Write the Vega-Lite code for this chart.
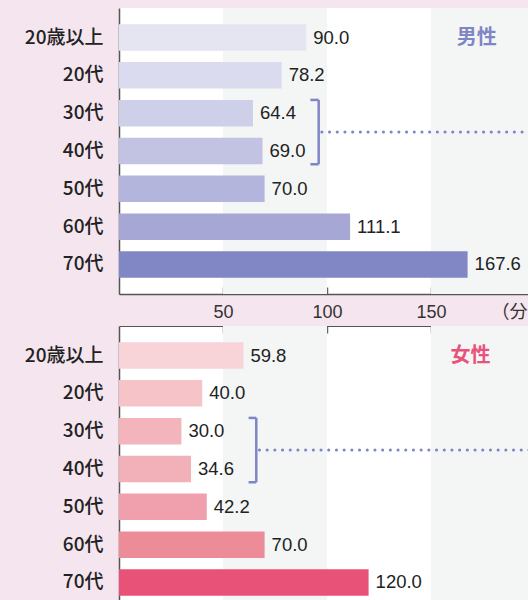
{
  "$schema": "https://vega.github.io/schema/vega-lite/v6.json",
  "background": "#f4e5ee",
  "padding": {"left": 24, "top": 8, "right": 0, "bottom": 0},
  "config": {
    "font": "Liberation Sans, Noto Sans CJK JP, sans-serif",
    "view": {"stroke": null, "fill": "white"},
    "axis": {"grid": false, "title": null}
  },
  "datasets": {
    "main": [
      {"sex": "男性", "age": "20歳以上", "value": 90.0},
      {"sex": "男性", "age": "20代", "value": 78.2},
      {"sex": "男性", "age": "30代", "value": 64.4},
      {"sex": "男性", "age": "40代", "value": 69.0},
      {"sex": "男性", "age": "50代", "value": 70.0},
      {"sex": "男性", "age": "60代", "value": 111.1},
      {"sex": "男性", "age": "70代", "value": 167.6},
      {"sex": "女性", "age": "20歳以上", "value": 59.8},
      {"sex": "女性", "age": "20代", "value": 40.0},
      {"sex": "女性", "age": "30代", "value": 30.0},
      {"sex": "女性", "age": "40代", "value": 34.6},
      {"sex": "女性", "age": "50代", "value": 42.2},
      {"sex": "女性", "age": "60代", "value": 70.0},
      {"sex": "女性", "age": "70代", "value": 120.0}
    ],
    "bands": [
      {"start": 50, "end": 100},
      {"start": 150, "end": 200}
    ],
    "one": [{}]
  },
  "spacing": 32,
  "bounds": "flush",
  "resolve": {"scale": {"color": "independent"}},
  "vconcat": [
    {
      "width": 416,
      "height": 286,
      "layer": [
        {
          "data": {"name": "bands"},
          "mark": {"type": "rect", "color": "#f4f6f5"},
          "encoding": {
            "x": {"field": "start", "type": "quantitative", "title": null,
              "scale": {"domain": [0, 200], "nice": false},
              "axis": {"orient": "bottom", "values": [50, 100, 150, 200], "labelExpr": "datum.value == 200 ? '（分）' : datum.label", "labelAlign": {"condition": {"test": "datum.value == 200", "value": "left"}, "value": "center"}, "labelOffset": {"condition": {"test": "datum.value == 200", "value": -44}, "value": 0}, "labelFontSize": 18, "labelColor": "#333", "tickSize": -7, "tickColor": "#666", "tickWidth": 1.5, "domainColor": "#555", "domainWidth": 1.5, "labelPadding": 16, "labelBound": false, "labelOverlap": false}},
            "x2": {"field": "end"}
          }
        },
        {
          "data": {"name": "main"},
          "transform": [{"filter": "datum.sex == '男性'"}],
          "mark": {"type": "bar"},
          "encoding": {
            "y": {"field": "age", "type": "nominal", "sort": null, "title": null,
              "scale": {"domain": ["20歳以上", "20代", "30代", "40代", "50代", "60代", "70代"], "paddingInner": 0.3, "paddingOuter": 0.43},
              "axis": {"ticks": false, "labelFont": "Noto Sans CJK JP", "labelFontSize": 19, "labelFontWeight": 500, "labelColor": "#222", "labelPadding": 16, "domainColor": "#555", "domainWidth": 1.5}},
            "x": {"field": "value", "type": "quantitative", "title": null},
            "color": {"field": "age", "type": "nominal", "legend": null,
              "scale": {"domain": ["20歳以上", "20代", "30代", "40代", "50代", "60代", "70代"], "range": ["#e5e5f2", "#dadbee", "#cecfe8", "#c2c3e2", "#b4b5dc", "#a6a7d5", "#8186c4"]}}
          }
        },
        {
          "data": {"name": "main"},
          "transform": [{"filter": "datum.sex == '男性'"}],
          "mark": {"type": "text", "align": "left", "baseline": "middle", "dx": 7, "fontSize": 18.5, "color": "#222"},
          "encoding": {
            "y": {"field": "age", "type": "nominal"},
            "x": {"field": "value", "type": "quantitative"},
            "text": {"field": "value", "type": "quantitative", "format": ".1f"}
          }
        },
        {
          "data": {"name": "one"},
          "mark": {"type": "rule", "color": "#7f86c6", "strokeWidth": 2.5},
          "encoding": {
            "x": {"datum": 96, "type": "quantitative"},
            "y": {"datum": "30代", "type": "nominal", "bandPosition": 0},
            "y2": {"datum": "40代", "bandPosition": 1}
          }
        },
        {
          "data": {"name": "one"},
          "mark": {"type": "rule", "color": "#7f86c6", "strokeWidth": 2.5},
          "encoding": {
            "x": {"datum": 92, "type": "quantitative"},
            "x2": {"datum": 96},
            "y": {"datum": "30代", "type": "nominal", "bandPosition": 0}
          }
        },
        {
          "data": {"name": "one"},
          "mark": {"type": "rule", "color": "#7f86c6", "strokeWidth": 2.5},
          "encoding": {
            "x": {"datum": 92, "type": "quantitative"},
            "x2": {"datum": 96},
            "y": {"datum": "40代", "type": "nominal", "bandPosition": 1}
          }
        },
        {
          "data": {"name": "one"},
          "mark": {"type": "rule", "color": "#7f86c6", "strokeWidth": 3, "strokeDash": [0.1, 7.6], "strokeCap": "round"},
          "encoding": {
            "x": {"datum": 97.5, "type": "quantitative"},
            "x2": {"datum": 200},
            "y": {"datum": "30代", "type": "nominal", "bandPosition": 1.214}
          }
        },
        {
          "data": {"name": "one"},
          "mark": {"type": "text", "fontSize": 20, "fontWeight": "bold", "color": "#8086c4", "font": "Noto Sans CJK JP", "baseline": "middle"},
          "encoding": {
            "x": {"datum": 172, "type": "quantitative"},
            "y": {"datum": "20歳以上", "type": "nominal"},
            "text": {"value": "男性"}
          }
        }
      ]
    },
    {
      "width": 416,
      "height": 286,
      "layer": [
        {
          "data": {"name": "bands"},
          "mark": {"type": "rect", "color": "#f4f6f5"},
          "encoding": {
            "x": {"field": "start", "type": "quantitative", "title": null,
              "scale": {"domain": [0, 200], "nice": false},
              "axis": {"orient": "top", "values": [50, 100, 150], "labels": false, "tickSize": -7, "tickColor": "#666", "tickWidth": 1.5, "domainColor": "#555", "domainWidth": 1}},
            "x2": {"field": "end"}
          }
        },
        {
          "data": {"name": "main"},
          "transform": [{"filter": "datum.sex == '女性'"}],
          "mark": {"type": "bar"},
          "encoding": {
            "y": {"field": "age", "type": "nominal", "sort": null, "title": null,
              "scale": {"domain": ["20歳以上", "20代", "30代", "40代", "50代", "60代", "70代"], "paddingInner": 0.3, "paddingOuter": 0.43},
              "axis": {"ticks": false, "labelFont": "Noto Sans CJK JP", "labelFontSize": 19, "labelFontWeight": 500, "labelColor": "#222", "labelPadding": 16, "domainColor": "#555", "domainWidth": 1.5}},
            "x": {"field": "value", "type": "quantitative", "title": null},
            "color": {"field": "age", "type": "nominal", "legend": null,
              "scale": {"domain": ["20歳以上", "20代", "30代", "40代", "50代", "60代", "70代"], "range": ["#f8d4d9", "#f6c3c9", "#f3b4bc", "#f2b0b9", "#f0a0ac", "#ec8c99", "#e85278"]}}
          }
        },
        {
          "data": {"name": "main"},
          "transform": [{"filter": "datum.sex == '女性'"}],
          "mark": {"type": "text", "align": "left", "baseline": "middle", "dx": 7, "fontSize": 18.5, "color": "#222"},
          "encoding": {
            "y": {"field": "age", "type": "nominal"},
            "x": {"field": "value", "type": "quantitative"},
            "text": {"field": "value", "type": "quantitative", "format": ".1f"}
          }
        },
        {
          "data": {"name": "one"},
          "mark": {"type": "rule", "color": "#7f86c6", "strokeWidth": 2.5},
          "encoding": {
            "x": {"datum": 66, "type": "quantitative"},
            "y": {"datum": "30代", "type": "nominal", "bandPosition": 0},
            "y2": {"datum": "40代", "bandPosition": 1}
          }
        },
        {
          "data": {"name": "one"},
          "mark": {"type": "rule", "color": "#7f86c6", "strokeWidth": 2.5},
          "encoding": {
            "x": {"datum": 62.3, "type": "quantitative"},
            "x2": {"datum": 66},
            "y": {"datum": "30代", "type": "nominal", "bandPosition": 0}
          }
        },
        {
          "data": {"name": "one"},
          "mark": {"type": "rule", "color": "#7f86c6", "strokeWidth": 2.5},
          "encoding": {
            "x": {"datum": 62.3, "type": "quantitative"},
            "x2": {"datum": 66},
            "y": {"datum": "40代", "type": "nominal", "bandPosition": 1}
          }
        },
        {
          "data": {"name": "one"},
          "mark": {"type": "rule", "color": "#7f86c6", "strokeWidth": 3, "strokeDash": [0.1, 7.6], "strokeCap": "round"},
          "encoding": {
            "x": {"datum": 67.5, "type": "quantitative"},
            "x2": {"datum": 200},
            "y": {"datum": "30代", "type": "nominal", "bandPosition": 1.214}
          }
        },
        {
          "data": {"name": "one"},
          "mark": {"type": "text", "fontSize": 20, "fontWeight": "bold", "color": "#e8527b", "font": "Noto Sans CJK JP", "baseline": "middle"},
          "encoding": {
            "x": {"datum": 169, "type": "quantitative"},
            "y": {"datum": "20歳以上", "type": "nominal"},
            "text": {"value": "女性"}
          }
        }
      ]
    }
  ]
}
